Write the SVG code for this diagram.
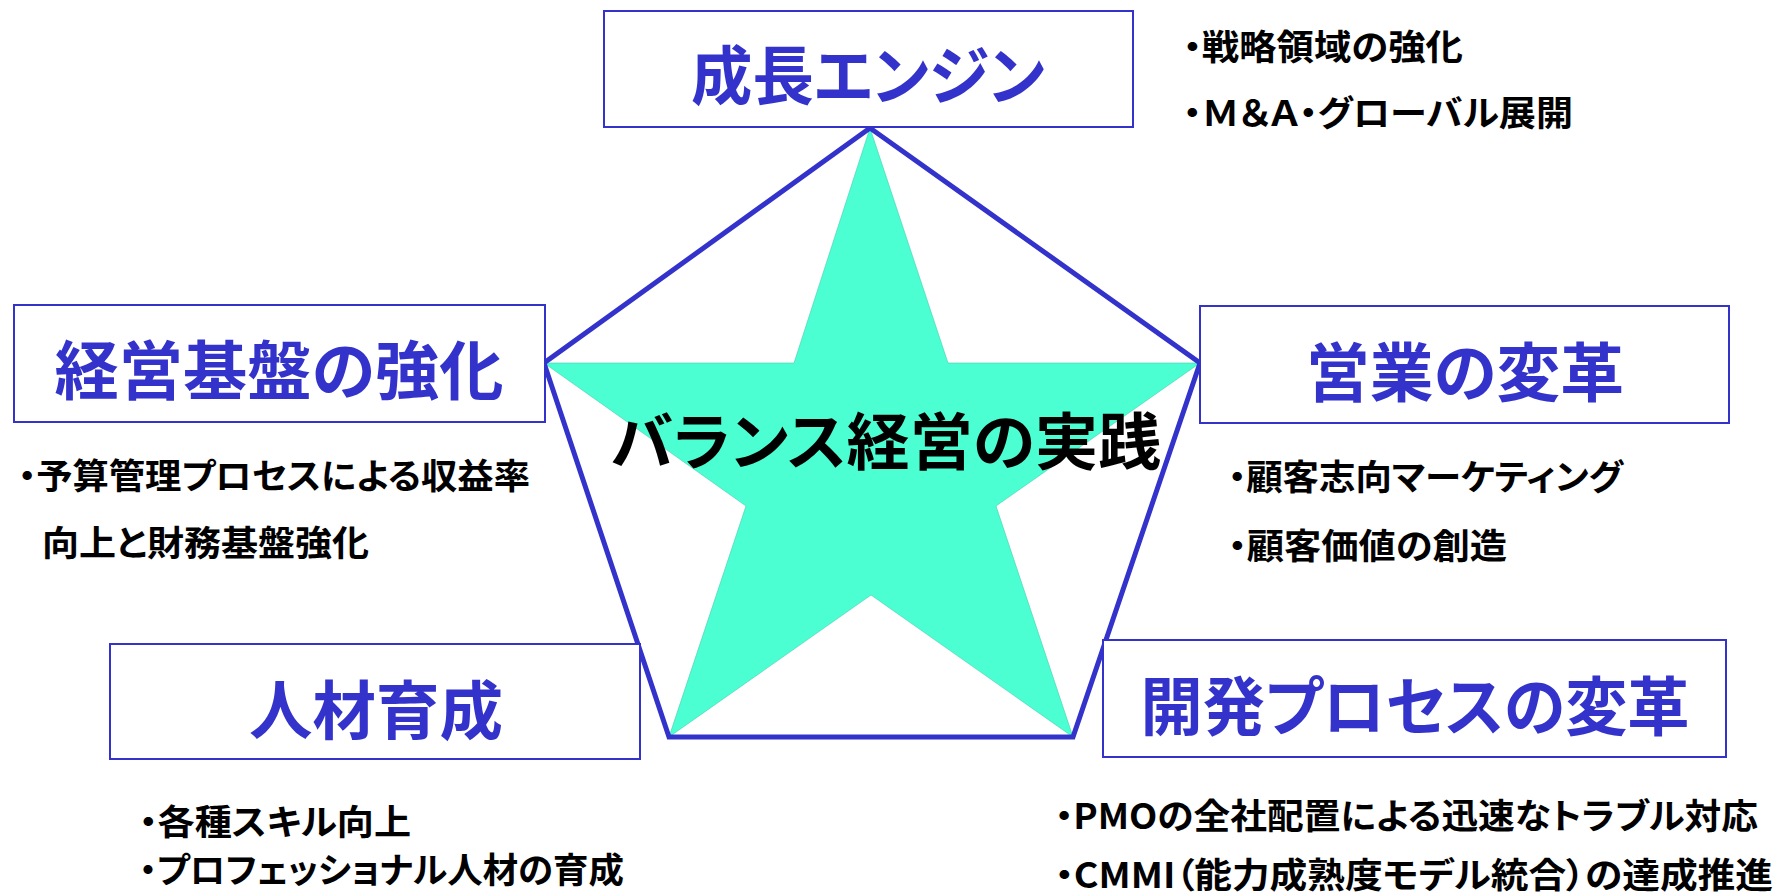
<svg xmlns="http://www.w3.org/2000/svg" width="1780" height="896" viewBox="0 0 1780 896">
<style>
text{font-family:"Noto Sans CJK JP","Noto Sans CJK SC",sans-serif;font-weight:700;font-feature-settings:"palt";dominant-baseline:central}
.box{fill:#fff;stroke:#3333CC;stroke-width:2}
.title{fill:#3333CC;font-size:64px;text-anchor:middle}
.body{fill:#000;font-size:35px}
.edge{fill:none;stroke:#3333CC;stroke-width:5;stroke-linejoin:miter}
</style>
<rect width="1780" height="896" fill="#fff"/>
<g id="star">
<polygon points="870,128 794,363 544,363 746,506 669,737 871,595 1073,737 996,506 1200,363 948,363" fill="#4BFFD2" stroke="#3FCFAE" stroke-width="0.6"/>
</g>
<g id="connectors">
<polygon class="edge" points="870,128 544,363 669,737 1073,737 1200,363"/>
</g>
<g id="center">
<text x="886" y="438" font-size="62" fill="#000" text-anchor="middle" textLength="550" lengthAdjust="spacingAndGlyphs">バランス経営の実践</text>
</g>
<g id="node-growth">
<rect class="box" x="604" y="11" width="529" height="116"/>
<text class="title" x="868" y="71" textLength="354" lengthAdjust="spacingAndGlyphs">成長エンジン</text>
<text class="body" x="1183" y="44" textLength="280" lengthAdjust="spacingAndGlyphs">・戦略領域の強化</text>
<text class="body" x="1183" y="110" textLength="390" lengthAdjust="spacingAndGlyphs">・Ｍ＆Ａ・グローバル展開</text>
</g>
<g id="node-foundation">
<rect class="box" x="14" y="305" width="531" height="117"/>
<text class="title" x="279" y="366" textLength="449" lengthAdjust="spacingAndGlyphs">経営基盤の強化</text>
<text class="body" x="18" y="473" textLength="512" lengthAdjust="spacingAndGlyphs">・予算管理プロセスによる収益率</text>
<text class="body" x="42" y="540" textLength="327" lengthAdjust="spacingAndGlyphs">向上と財務基盤強化</text>
</g>
<g id="node-sales">
<rect class="box" x="1200" y="306" width="529" height="117"/>
<text class="title" x="1465" y="368" textLength="318" lengthAdjust="spacingAndGlyphs">営業の変革</text>
<text class="body" x="1228" y="474" textLength="395" lengthAdjust="spacingAndGlyphs">・顧客志向マーケティング</text>
<text class="body" x="1228" y="543" textLength="279" lengthAdjust="spacingAndGlyphs">・顧客価値の創造</text>
</g>
<g id="node-people">
<rect class="box" x="110" y="644" width="530" height="115"/>
<text class="title" x="376" y="706" textLength="254" lengthAdjust="spacingAndGlyphs">人材育成</text>
<text class="body" x="139" y="819" font-size="33" textLength="272" lengthAdjust="spacingAndGlyphs">・各種スキル向上</text>
<text class="body" x="139" y="867" font-size="33" textLength="485" lengthAdjust="spacingAndGlyphs">・プロフェッショナル人材の育成</text>
</g>
<g id="node-dev">
<rect class="box" x="1103" y="640" width="623" height="117"/>
<text class="title" x="1415" y="702" textLength="549" lengthAdjust="spacingAndGlyphs">開発プロセスの変革</text>
<text class="body" x="1055" y="813" textLength="703" lengthAdjust="spacingAndGlyphs">・PMOの全社配置による迅速なトラブル対応</text>
<text class="body" x="1055" y="872" font-size="34" textLength="718" lengthAdjust="spacingAndGlyphs">・CMMI（能力成熟度モデル統合）の達成推進</text>
</g>
</svg>
